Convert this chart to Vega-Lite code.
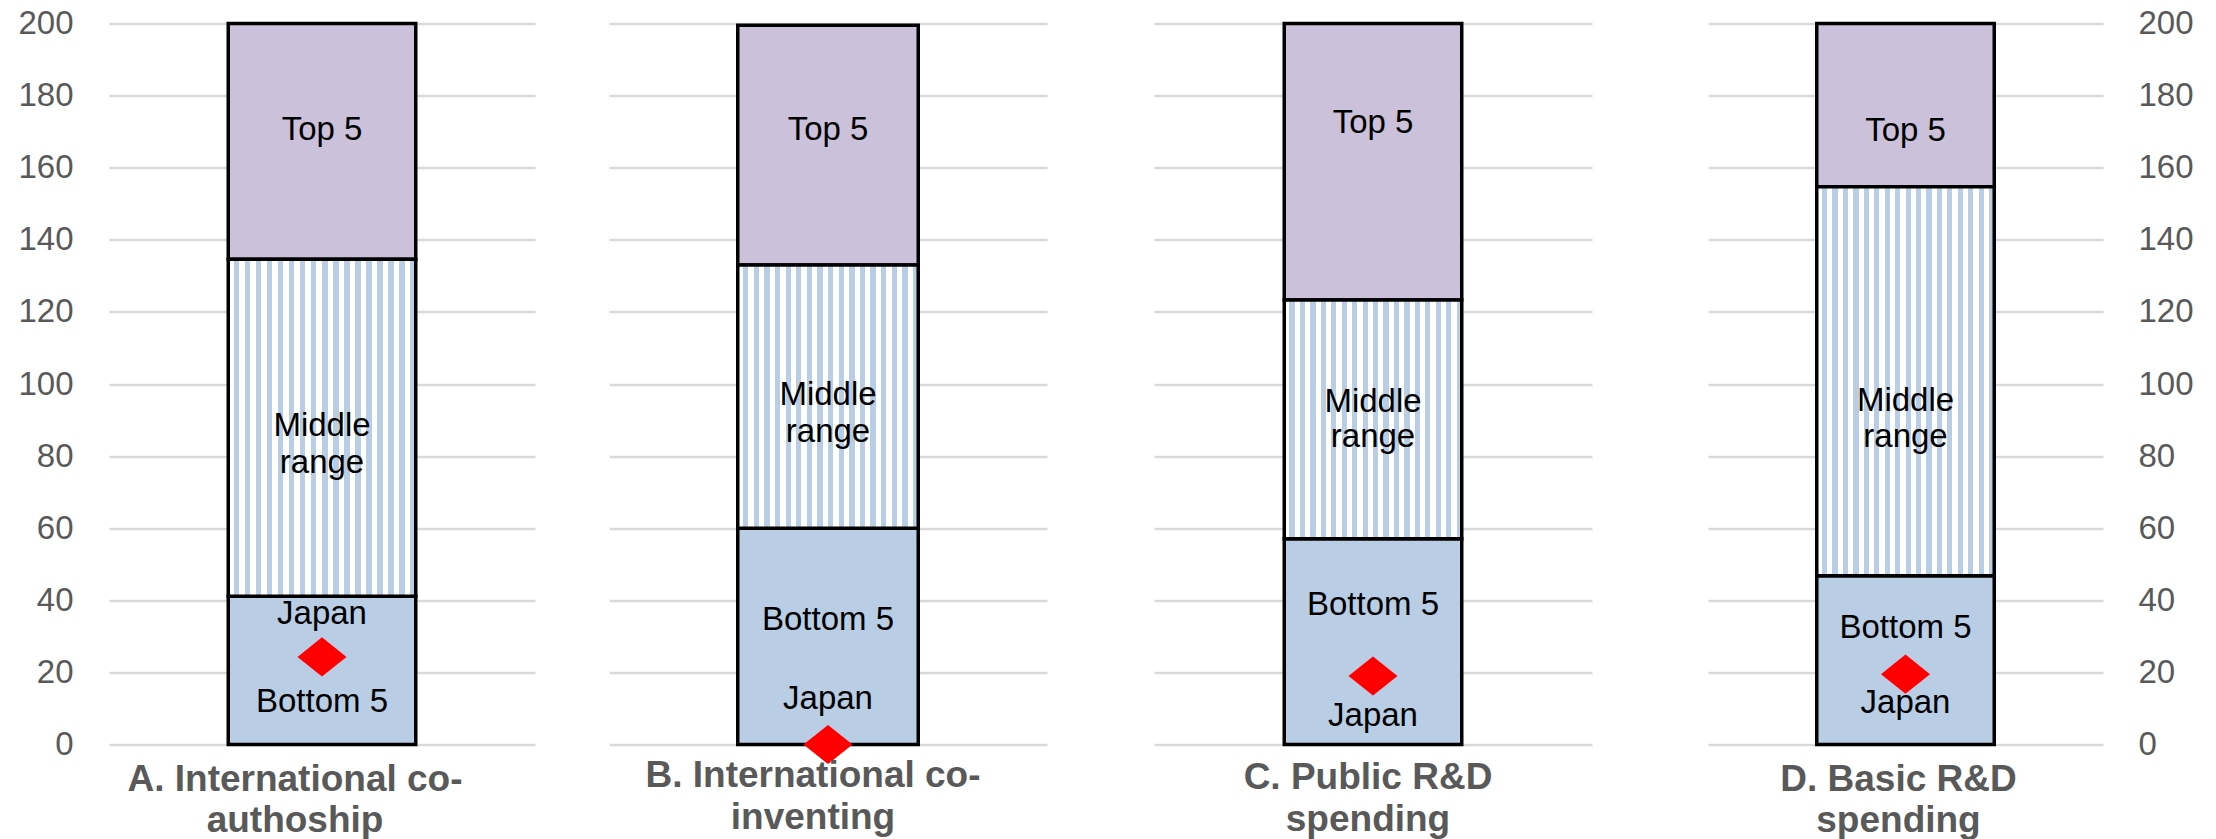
{
  "$schema": "https://vega.github.io/schema/vega-lite/v6.json",
  "background": "white",
  "padding": {"left": 17, "top": 7.5, "right": 5, "bottom": 0},
  "datasets": {
    "segments": [
      {"panel": "A", "segment": "Bottom 5", "v": 0, "hi": 41.1},
      {"panel": "A", "segment": "Middle range", "v": 41.1, "hi": 134.6},
      {"panel": "A", "segment": "Top 5", "v": 134.6, "hi": 200},
      {"panel": "B", "segment": "Bottom 5", "v": 0, "hi": 60},
      {"panel": "B", "segment": "Middle range", "v": 60, "hi": 133},
      {"panel": "B", "segment": "Top 5", "v": 133, "hi": 199.5},
      {"panel": "C", "segment": "Bottom 5", "v": 0, "hi": 57.1},
      {"panel": "C", "segment": "Middle range", "v": 57.1, "hi": 123.3},
      {"panel": "C", "segment": "Top 5", "v": 123.3, "hi": 200},
      {"panel": "D", "segment": "Bottom 5", "v": 0, "hi": 46.8},
      {"panel": "D", "segment": "Middle range", "v": 46.8, "hi": 154.7},
      {"panel": "D", "segment": "Top 5", "v": 154.7, "hi": 200}
    ],
    "japan": [
      {"panel": "A", "v": 24.3},
      {"panel": "B", "v": 0},
      {"panel": "C", "v": 19},
      {"panel": "D", "v": 19.5}
    ],
    "labels": [
      {"panel": "A", "label": "Top 5", "v": 170.8},
      {"panel": "A", "label": "Middle", "v": 88.9},
      {"panel": "A", "label": "range", "v": 78.6},
      {"panel": "A", "label": "Japan", "v": 36.5},
      {"panel": "A", "label": "Bottom 5", "v": 12.1},
      {"panel": "B", "label": "Top 5", "v": 171},
      {"panel": "B", "label": "Middle", "v": 97.4},
      {"panel": "B", "label": "range", "v": 87.1},
      {"panel": "B", "label": "Bottom 5", "v": 35},
      {"panel": "B", "label": "Japan", "v": 13.1},
      {"panel": "C", "label": "Top 5", "v": 172.8},
      {"panel": "C", "label": "Middle", "v": 95.5},
      {"panel": "C", "label": "range", "v": 85.6},
      {"panel": "C", "label": "Bottom 5", "v": 39},
      {"panel": "C", "label": "Japan", "v": 8.3},
      {"panel": "D", "label": "Top 5", "v": 170.6},
      {"panel": "D", "label": "Middle", "v": 95.6},
      {"panel": "D", "label": "range", "v": 85.8},
      {"panel": "D", "label": "Bottom 5", "v": 32.7},
      {"panel": "D", "label": "Japan", "v": 11.9}
    ]
  },
  "config": {
    "view": {"stroke": null},
    "axis": {"domain": false, "ticks": false, "labelFontSize": 33, "labelColor": "#595959", "labelFont": "Liberation Sans", "gridColor": "#D9D9D9", "gridWidth": 2.3},
    "title": {"orient": "bottom", "anchor": "middle", "frame": "group", "fontSize": 37, "fontWeight": "bold", "color": "#595959", "font": "Liberation Sans", "lineHeight": 41.5, "offset": 14},
    "text": {"fontSize": 33, "font": "Liberation Sans", "color": "#000000", "dy": 1.5},
    "bar": {"stroke": "black", "strokeWidth": 3.5}
  },
  "bounds": "flush",
  "spacing": 0,
  "hconcat": [
    {
      "width": 426, "height": 721,
      "title": {"text": ["A. International co-", "authoship"], "dx": -27, "offset": 0},
      "encoding": {
        "x": {"field": "panel", "type": "nominal", "axis": null, "scale": {"type": "band", "paddingInner": 0, "paddingOuter": 0}},
        "y": {"field": "v", "type": "quantitative", "scale": {"domain": [0, 200], "nice": false}, "axis": {"orient": "left", "title": null, "values": [0, 20, 40, 60, 80, 100, 120, 140, 160, 180, 200], "labelPadding": 36, "grid": true}}
      },
      "layer": [
        {
          "data": {"name": "segments"},
          "transform": [{"filter": "datum.panel === 'A' && datum.segment !== 'Middle range'"}],
          "mark": {"type": "bar", "width": 187.5},
          "encoding": {
            "y2": {"field": "hi"},
            "color": {"field": "segment", "type": "nominal", "scale": {"domain": ["Bottom 5", "Top 5"], "range": ["#B9CDE5", "#CCC1DA"]}, "legend": null}
          }
        },
        {
          "data": {"name": "segments"},
          "transform": [{"filter": "datum.panel === 'A' && datum.segment === 'Middle range'"}],
          "mark": {"type": "bar", "width": 187.5, "fill": {"gradient": "linear", "x1": 0, "x2": 1, "y1": 0, "y2": 0, "stops": [{"offset":0,"color":"#FFFFFF"},{"offset":0.0294,"color":"#FFFFFF"},{"offset":0.0294,"color":"#B9CDE5"},{"offset":0.0588,"color":"#B9CDE5"},{"offset":0.0588,"color":"#FFFFFF"},{"offset":0.0882,"color":"#FFFFFF"},{"offset":0.0882,"color":"#B9CDE5"},{"offset":0.1176,"color":"#B9CDE5"},{"offset":0.1176,"color":"#FFFFFF"},{"offset":0.1471,"color":"#FFFFFF"},{"offset":0.1471,"color":"#B9CDE5"},{"offset":0.1765,"color":"#B9CDE5"},{"offset":0.1765,"color":"#FFFFFF"},{"offset":0.2059,"color":"#FFFFFF"},{"offset":0.2059,"color":"#B9CDE5"},{"offset":0.2353,"color":"#B9CDE5"},{"offset":0.2353,"color":"#FFFFFF"},{"offset":0.2647,"color":"#FFFFFF"},{"offset":0.2647,"color":"#B9CDE5"},{"offset":0.2941,"color":"#B9CDE5"},{"offset":0.2941,"color":"#FFFFFF"},{"offset":0.3235,"color":"#FFFFFF"},{"offset":0.3235,"color":"#B9CDE5"},{"offset":0.3529,"color":"#B9CDE5"},{"offset":0.3529,"color":"#FFFFFF"},{"offset":0.3824,"color":"#FFFFFF"},{"offset":0.3824,"color":"#B9CDE5"},{"offset":0.4118,"color":"#B9CDE5"},{"offset":0.4118,"color":"#FFFFFF"},{"offset":0.4412,"color":"#FFFFFF"},{"offset":0.4412,"color":"#B9CDE5"},{"offset":0.4706,"color":"#B9CDE5"},{"offset":0.4706,"color":"#FFFFFF"},{"offset":0.5,"color":"#FFFFFF"},{"offset":0.5,"color":"#B9CDE5"},{"offset":0.5294,"color":"#B9CDE5"},{"offset":0.5294,"color":"#FFFFFF"},{"offset":0.5588,"color":"#FFFFFF"},{"offset":0.5588,"color":"#B9CDE5"},{"offset":0.5882,"color":"#B9CDE5"},{"offset":0.5882,"color":"#FFFFFF"},{"offset":0.6176,"color":"#FFFFFF"},{"offset":0.6176,"color":"#B9CDE5"},{"offset":0.6471,"color":"#B9CDE5"},{"offset":0.6471,"color":"#FFFFFF"},{"offset":0.6765,"color":"#FFFFFF"},{"offset":0.6765,"color":"#B9CDE5"},{"offset":0.7059,"color":"#B9CDE5"},{"offset":0.7059,"color":"#FFFFFF"},{"offset":0.7353,"color":"#FFFFFF"},{"offset":0.7353,"color":"#B9CDE5"},{"offset":0.7647,"color":"#B9CDE5"},{"offset":0.7647,"color":"#FFFFFF"},{"offset":0.7941,"color":"#FFFFFF"},{"offset":0.7941,"color":"#B9CDE5"},{"offset":0.8235,"color":"#B9CDE5"},{"offset":0.8235,"color":"#FFFFFF"},{"offset":0.8529,"color":"#FFFFFF"},{"offset":0.8529,"color":"#B9CDE5"},{"offset":0.8824,"color":"#B9CDE5"},{"offset":0.8824,"color":"#FFFFFF"},{"offset":0.9118,"color":"#FFFFFF"},{"offset":0.9118,"color":"#B9CDE5"},{"offset":0.9412,"color":"#B9CDE5"},{"offset":0.9412,"color":"#FFFFFF"},{"offset":0.9706,"color":"#FFFFFF"},{"offset":0.9706,"color":"#B9CDE5"},{"offset":1,"color":"#B9CDE5"}]}},
          "encoding": {"y2": {"field": "hi"}}
        },
        {
          "data": {"name": "japan"},
          "transform": [{"filter": "datum.panel === 'A'"}],
          "mark": {"type": "point", "shape": "M-1,0L0,-0.8L1,0L0,0.8Z", "filled": true, "color": "#FF0000", "opacity": 1, "size": 2400}
        },
        {
          "data": {"name": "labels"},
          "transform": [{"filter": "datum.panel === 'A'"}],
          "mark": {"type": "text"},
          "encoding": {"text": {"field": "label", "type": "nominal"}}
        }
      ]
    },
    {"width": 74, "height": 721, "data": {"values": []}, "mark": "point"},
    {
      "width": 438, "height": 721,
      "title": {"text": ["B. International co-", "inventing"], "dx": -15, "offset": -6},
      "encoding": {
        "x": {"field": "panel", "type": "nominal", "axis": null, "scale": {"type": "band", "paddingInner": 0, "paddingOuter": 0}},
        "y": {"field": "v", "type": "quantitative", "scale": {"domain": [0, 200], "nice": false}, "axis": {"orient": "left", "title": null, "values": [0, 20, 40, 60, 80, 100, 120, 140, 160, 180, 200], "labels": false, "grid": true}}
      },
      "layer": [
        {
          "data": {"name": "segments"},
          "transform": [{"filter": "datum.panel === 'B' && datum.segment !== 'Middle range'"}],
          "mark": {"type": "bar", "width": 180.5},
          "encoding": {
            "y2": {"field": "hi"},
            "color": {"field": "segment", "type": "nominal", "scale": {"domain": ["Bottom 5", "Top 5"], "range": ["#B9CDE5", "#CCC1DA"]}, "legend": null}
          }
        },
        {
          "data": {"name": "segments"},
          "transform": [{"filter": "datum.panel === 'B' && datum.segment === 'Middle range'"}],
          "mark": {"type": "bar", "width": 180.5, "fill": {"gradient": "linear", "x1": 0, "x2": 1, "y1": 0, "y2": 0, "stops": [{"offset":0,"color":"#FFFFFF"},{"offset":0.0294,"color":"#FFFFFF"},{"offset":0.0294,"color":"#B9CDE5"},{"offset":0.0588,"color":"#B9CDE5"},{"offset":0.0588,"color":"#FFFFFF"},{"offset":0.0882,"color":"#FFFFFF"},{"offset":0.0882,"color":"#B9CDE5"},{"offset":0.1176,"color":"#B9CDE5"},{"offset":0.1176,"color":"#FFFFFF"},{"offset":0.1471,"color":"#FFFFFF"},{"offset":0.1471,"color":"#B9CDE5"},{"offset":0.1765,"color":"#B9CDE5"},{"offset":0.1765,"color":"#FFFFFF"},{"offset":0.2059,"color":"#FFFFFF"},{"offset":0.2059,"color":"#B9CDE5"},{"offset":0.2353,"color":"#B9CDE5"},{"offset":0.2353,"color":"#FFFFFF"},{"offset":0.2647,"color":"#FFFFFF"},{"offset":0.2647,"color":"#B9CDE5"},{"offset":0.2941,"color":"#B9CDE5"},{"offset":0.2941,"color":"#FFFFFF"},{"offset":0.3235,"color":"#FFFFFF"},{"offset":0.3235,"color":"#B9CDE5"},{"offset":0.3529,"color":"#B9CDE5"},{"offset":0.3529,"color":"#FFFFFF"},{"offset":0.3824,"color":"#FFFFFF"},{"offset":0.3824,"color":"#B9CDE5"},{"offset":0.4118,"color":"#B9CDE5"},{"offset":0.4118,"color":"#FFFFFF"},{"offset":0.4412,"color":"#FFFFFF"},{"offset":0.4412,"color":"#B9CDE5"},{"offset":0.4706,"color":"#B9CDE5"},{"offset":0.4706,"color":"#FFFFFF"},{"offset":0.5,"color":"#FFFFFF"},{"offset":0.5,"color":"#B9CDE5"},{"offset":0.5294,"color":"#B9CDE5"},{"offset":0.5294,"color":"#FFFFFF"},{"offset":0.5588,"color":"#FFFFFF"},{"offset":0.5588,"color":"#B9CDE5"},{"offset":0.5882,"color":"#B9CDE5"},{"offset":0.5882,"color":"#FFFFFF"},{"offset":0.6176,"color":"#FFFFFF"},{"offset":0.6176,"color":"#B9CDE5"},{"offset":0.6471,"color":"#B9CDE5"},{"offset":0.6471,"color":"#FFFFFF"},{"offset":0.6765,"color":"#FFFFFF"},{"offset":0.6765,"color":"#B9CDE5"},{"offset":0.7059,"color":"#B9CDE5"},{"offset":0.7059,"color":"#FFFFFF"},{"offset":0.7353,"color":"#FFFFFF"},{"offset":0.7353,"color":"#B9CDE5"},{"offset":0.7647,"color":"#B9CDE5"},{"offset":0.7647,"color":"#FFFFFF"},{"offset":0.7941,"color":"#FFFFFF"},{"offset":0.7941,"color":"#B9CDE5"},{"offset":0.8235,"color":"#B9CDE5"},{"offset":0.8235,"color":"#FFFFFF"},{"offset":0.8529,"color":"#FFFFFF"},{"offset":0.8529,"color":"#B9CDE5"},{"offset":0.8824,"color":"#B9CDE5"},{"offset":0.8824,"color":"#FFFFFF"},{"offset":0.9118,"color":"#FFFFFF"},{"offset":0.9118,"color":"#B9CDE5"},{"offset":0.9412,"color":"#B9CDE5"},{"offset":0.9412,"color":"#FFFFFF"},{"offset":0.9706,"color":"#FFFFFF"},{"offset":0.9706,"color":"#B9CDE5"},{"offset":1,"color":"#B9CDE5"}]}},
          "encoding": {"y2": {"field": "hi"}}
        },
        {
          "data": {"name": "japan"},
          "transform": [{"filter": "datum.panel === 'B'"}],
          "mark": {"type": "point", "shape": "M-1,0L0,-0.8L1,0L0,0.8Z", "filled": true, "color": "#FF0000", "opacity": 1, "size": 2400}
        },
        {
          "data": {"name": "labels"},
          "transform": [{"filter": "datum.panel === 'B'"}],
          "mark": {"type": "text"},
          "encoding": {"text": {"field": "label", "type": "nominal"}}
        }
      ]
    },
    {"width": 107, "height": 721, "data": {"values": []}, "mark": "point"},
    {
      "width": 438, "height": 721,
      "title": {"text": ["C. Public R&D", "spending"], "dx": -5, "offset": 14},
      "encoding": {
        "x": {"field": "panel", "type": "nominal", "axis": null, "scale": {"type": "band", "paddingInner": 0, "paddingOuter": 0}},
        "y": {"field": "v", "type": "quantitative", "scale": {"domain": [0, 200], "nice": false}, "axis": {"orient": "left", "title": null, "values": [0, 20, 40, 60, 80, 100, 120, 140, 160, 180, 200], "labels": false, "grid": true}}
      },
      "layer": [
        {
          "data": {"name": "segments"},
          "transform": [{"filter": "datum.panel === 'C' && datum.segment !== 'Middle range'"}],
          "mark": {"type": "bar", "width": 177.5},
          "encoding": {
            "y2": {"field": "hi"},
            "color": {"field": "segment", "type": "nominal", "scale": {"domain": ["Bottom 5", "Top 5"], "range": ["#B9CDE5", "#CCC1DA"]}, "legend": null}
          }
        },
        {
          "data": {"name": "segments"},
          "transform": [{"filter": "datum.panel === 'C' && datum.segment === 'Middle range'"}],
          "mark": {"type": "bar", "width": 177.5, "fill": {"gradient": "linear", "x1": 0, "x2": 1, "y1": 0, "y2": 0, "stops": [{"offset":0,"color":"#FFFFFF"},{"offset":0.0294,"color":"#FFFFFF"},{"offset":0.0294,"color":"#B9CDE5"},{"offset":0.0588,"color":"#B9CDE5"},{"offset":0.0588,"color":"#FFFFFF"},{"offset":0.0882,"color":"#FFFFFF"},{"offset":0.0882,"color":"#B9CDE5"},{"offset":0.1176,"color":"#B9CDE5"},{"offset":0.1176,"color":"#FFFFFF"},{"offset":0.1471,"color":"#FFFFFF"},{"offset":0.1471,"color":"#B9CDE5"},{"offset":0.1765,"color":"#B9CDE5"},{"offset":0.1765,"color":"#FFFFFF"},{"offset":0.2059,"color":"#FFFFFF"},{"offset":0.2059,"color":"#B9CDE5"},{"offset":0.2353,"color":"#B9CDE5"},{"offset":0.2353,"color":"#FFFFFF"},{"offset":0.2647,"color":"#FFFFFF"},{"offset":0.2647,"color":"#B9CDE5"},{"offset":0.2941,"color":"#B9CDE5"},{"offset":0.2941,"color":"#FFFFFF"},{"offset":0.3235,"color":"#FFFFFF"},{"offset":0.3235,"color":"#B9CDE5"},{"offset":0.3529,"color":"#B9CDE5"},{"offset":0.3529,"color":"#FFFFFF"},{"offset":0.3824,"color":"#FFFFFF"},{"offset":0.3824,"color":"#B9CDE5"},{"offset":0.4118,"color":"#B9CDE5"},{"offset":0.4118,"color":"#FFFFFF"},{"offset":0.4412,"color":"#FFFFFF"},{"offset":0.4412,"color":"#B9CDE5"},{"offset":0.4706,"color":"#B9CDE5"},{"offset":0.4706,"color":"#FFFFFF"},{"offset":0.5,"color":"#FFFFFF"},{"offset":0.5,"color":"#B9CDE5"},{"offset":0.5294,"color":"#B9CDE5"},{"offset":0.5294,"color":"#FFFFFF"},{"offset":0.5588,"color":"#FFFFFF"},{"offset":0.5588,"color":"#B9CDE5"},{"offset":0.5882,"color":"#B9CDE5"},{"offset":0.5882,"color":"#FFFFFF"},{"offset":0.6176,"color":"#FFFFFF"},{"offset":0.6176,"color":"#B9CDE5"},{"offset":0.6471,"color":"#B9CDE5"},{"offset":0.6471,"color":"#FFFFFF"},{"offset":0.6765,"color":"#FFFFFF"},{"offset":0.6765,"color":"#B9CDE5"},{"offset":0.7059,"color":"#B9CDE5"},{"offset":0.7059,"color":"#FFFFFF"},{"offset":0.7353,"color":"#FFFFFF"},{"offset":0.7353,"color":"#B9CDE5"},{"offset":0.7647,"color":"#B9CDE5"},{"offset":0.7647,"color":"#FFFFFF"},{"offset":0.7941,"color":"#FFFFFF"},{"offset":0.7941,"color":"#B9CDE5"},{"offset":0.8235,"color":"#B9CDE5"},{"offset":0.8235,"color":"#FFFFFF"},{"offset":0.8529,"color":"#FFFFFF"},{"offset":0.8529,"color":"#B9CDE5"},{"offset":0.8824,"color":"#B9CDE5"},{"offset":0.8824,"color":"#FFFFFF"},{"offset":0.9118,"color":"#FFFFFF"},{"offset":0.9118,"color":"#B9CDE5"},{"offset":0.9412,"color":"#B9CDE5"},{"offset":0.9412,"color":"#FFFFFF"},{"offset":0.9706,"color":"#FFFFFF"},{"offset":0.9706,"color":"#B9CDE5"},{"offset":1,"color":"#B9CDE5"}]}},
          "encoding": {"y2": {"field": "hi"}}
        },
        {
          "data": {"name": "japan"},
          "transform": [{"filter": "datum.panel === 'C'"}],
          "mark": {"type": "point", "shape": "M-1,0L0,-0.8L1,0L0,0.8Z", "filled": true, "color": "#FF0000", "opacity": 1, "size": 2400}
        },
        {
          "data": {"name": "labels"},
          "transform": [{"filter": "datum.panel === 'C'"}],
          "mark": {"type": "text"},
          "encoding": {"text": {"field": "label", "type": "nominal"}}
        }
      ]
    },
    {"width": 116, "height": 721, "data": {"values": []}, "mark": "point"},
    {
      "width": 395, "height": 721,
      "title": {"text": ["D. Basic R&D", "spending"], "dx": -7, "offset": 0},
      "encoding": {
        "x": {"field": "panel", "type": "nominal", "axis": null, "scale": {"type": "band", "paddingInner": 0, "paddingOuter": 0}},
        "y": {"field": "v", "type": "quantitative", "scale": {"domain": [0, 200], "nice": false}, "axis": {"orient": "right", "title": null, "values": [0, 20, 40, 60, 80, 100, 120, 140, 160, 180, 200], "labelPadding": 35, "grid": true}}
      },
      "layer": [
        {
          "data": {"name": "segments"},
          "transform": [{"filter": "datum.panel === 'D' && datum.segment !== 'Middle range'"}],
          "mark": {"type": "bar", "width": 177.5},
          "encoding": {
            "y2": {"field": "hi"},
            "color": {"field": "segment", "type": "nominal", "scale": {"domain": ["Bottom 5", "Top 5"], "range": ["#B9CDE5", "#CCC1DA"]}, "legend": null}
          }
        },
        {
          "data": {"name": "segments"},
          "transform": [{"filter": "datum.panel === 'D' && datum.segment === 'Middle range'"}],
          "mark": {"type": "bar", "width": 177.5, "fill": {"gradient": "linear", "x1": 0, "x2": 1, "y1": 0, "y2": 0, "stops": [{"offset":0,"color":"#FFFFFF"},{"offset":0.0294,"color":"#FFFFFF"},{"offset":0.0294,"color":"#B9CDE5"},{"offset":0.0588,"color":"#B9CDE5"},{"offset":0.0588,"color":"#FFFFFF"},{"offset":0.0882,"color":"#FFFFFF"},{"offset":0.0882,"color":"#B9CDE5"},{"offset":0.1176,"color":"#B9CDE5"},{"offset":0.1176,"color":"#FFFFFF"},{"offset":0.1471,"color":"#FFFFFF"},{"offset":0.1471,"color":"#B9CDE5"},{"offset":0.1765,"color":"#B9CDE5"},{"offset":0.1765,"color":"#FFFFFF"},{"offset":0.2059,"color":"#FFFFFF"},{"offset":0.2059,"color":"#B9CDE5"},{"offset":0.2353,"color":"#B9CDE5"},{"offset":0.2353,"color":"#FFFFFF"},{"offset":0.2647,"color":"#FFFFFF"},{"offset":0.2647,"color":"#B9CDE5"},{"offset":0.2941,"color":"#B9CDE5"},{"offset":0.2941,"color":"#FFFFFF"},{"offset":0.3235,"color":"#FFFFFF"},{"offset":0.3235,"color":"#B9CDE5"},{"offset":0.3529,"color":"#B9CDE5"},{"offset":0.3529,"color":"#FFFFFF"},{"offset":0.3824,"color":"#FFFFFF"},{"offset":0.3824,"color":"#B9CDE5"},{"offset":0.4118,"color":"#B9CDE5"},{"offset":0.4118,"color":"#FFFFFF"},{"offset":0.4412,"color":"#FFFFFF"},{"offset":0.4412,"color":"#B9CDE5"},{"offset":0.4706,"color":"#B9CDE5"},{"offset":0.4706,"color":"#FFFFFF"},{"offset":0.5,"color":"#FFFFFF"},{"offset":0.5,"color":"#B9CDE5"},{"offset":0.5294,"color":"#B9CDE5"},{"offset":0.5294,"color":"#FFFFFF"},{"offset":0.5588,"color":"#FFFFFF"},{"offset":0.5588,"color":"#B9CDE5"},{"offset":0.5882,"color":"#B9CDE5"},{"offset":0.5882,"color":"#FFFFFF"},{"offset":0.6176,"color":"#FFFFFF"},{"offset":0.6176,"color":"#B9CDE5"},{"offset":0.6471,"color":"#B9CDE5"},{"offset":0.6471,"color":"#FFFFFF"},{"offset":0.6765,"color":"#FFFFFF"},{"offset":0.6765,"color":"#B9CDE5"},{"offset":0.7059,"color":"#B9CDE5"},{"offset":0.7059,"color":"#FFFFFF"},{"offset":0.7353,"color":"#FFFFFF"},{"offset":0.7353,"color":"#B9CDE5"},{"offset":0.7647,"color":"#B9CDE5"},{"offset":0.7647,"color":"#FFFFFF"},{"offset":0.7941,"color":"#FFFFFF"},{"offset":0.7941,"color":"#B9CDE5"},{"offset":0.8235,"color":"#B9CDE5"},{"offset":0.8235,"color":"#FFFFFF"},{"offset":0.8529,"color":"#FFFFFF"},{"offset":0.8529,"color":"#B9CDE5"},{"offset":0.8824,"color":"#B9CDE5"},{"offset":0.8824,"color":"#FFFFFF"},{"offset":0.9118,"color":"#FFFFFF"},{"offset":0.9118,"color":"#B9CDE5"},{"offset":0.9412,"color":"#B9CDE5"},{"offset":0.9412,"color":"#FFFFFF"},{"offset":0.9706,"color":"#FFFFFF"},{"offset":0.9706,"color":"#B9CDE5"},{"offset":1,"color":"#B9CDE5"}]}},
          "encoding": {"y2": {"field": "hi"}}
        },
        {
          "data": {"name": "japan"},
          "transform": [{"filter": "datum.panel === 'D'"}],
          "mark": {"type": "point", "shape": "M-1,0L0,-0.8L1,0L0,0.8Z", "filled": true, "color": "#FF0000", "opacity": 1, "size": 2400}
        },
        {
          "data": {"name": "labels"},
          "transform": [{"filter": "datum.panel === 'D'"}],
          "mark": {"type": "text"},
          "encoding": {"text": {"field": "label", "type": "nominal"}}
        }
      ]
    }
  ]
}
